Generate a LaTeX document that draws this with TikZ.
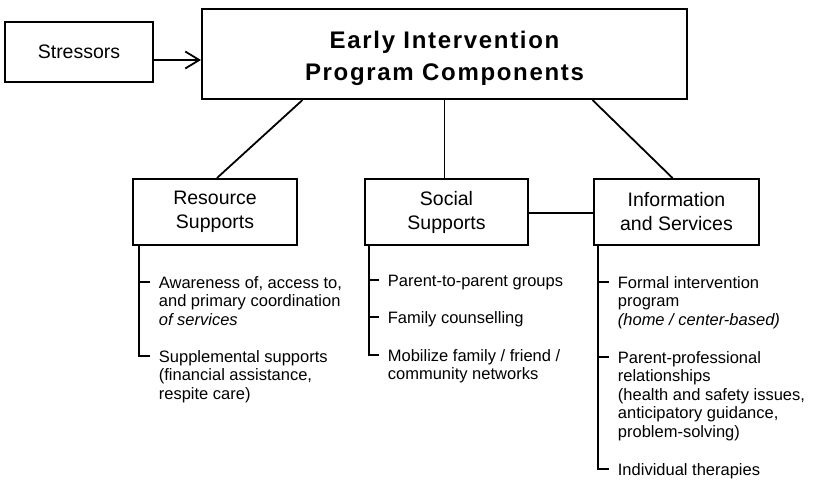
\documentclass[tikz,border=0pt]{standalone}
\usepackage{fontspec}
\setmainfont{Liberation Sans}
\usetikzlibrary{arrows.meta}

\newcommand{\itemfont}{\fontsize{16.5}{18.5}\selectfont}
\newcommand{\boxfont}{\fontsize{19.5}{24}\selectfont}
\newcommand{\titlefont}{\fontsize{24}{32}\selectfont\bfseries\addfontfeatures{LetterSpace=7}}

\begin{document}
\begin{tikzpicture}[x=1pt,y=-1pt,line width=1.8pt,
    box/.style={draw,line width=2pt,align=center,inner sep=0pt,font=\boxfont},
    item/.style={anchor=north west,align=left,inner sep=0pt,font=\itemfont}]
    \useasboundingbox (0,0) rectangle (813,480);

    % Top row
    \node[box,minimum width=148pt,minimum height=60pt] (stress) at (79,52) {Stressors};
    \node[box,minimum width=485pt,minimum height=90pt,font=\titlefont] (main) at (444.5,54)
        {\rule{0pt}{26pt}Early Intervention\\Program Components};
    \draw[-{Straight Barb[length=14pt,width=17pt]}] ([yshift=-8pt]stress.east) -- ([yshift=-8pt]stress.east -| main.west);

    % Components
    \node[box,minimum width=164pt,minimum height=66pt] (res) at (215,212) {Resource\\Supports};
    \node[box,minimum width=163pt,minimum height=66pt] (soc) at (446.5,212) {Social\\Supports};
    \node[box,minimum width=165pt,minimum height=66pt] (info) at (676.5,212) {Information\\and Services};

    \draw ([xshift=-142pt]main.south) -- ([xshift=2pt]res.north);
    \draw (main.south) -- (main.south |- soc.north);
    \draw ([xshift=148pt]main.south) -- ([xshift=-4pt]info.north);
    \draw ([yshift=-1pt]soc.east) -- ([yshift=-1pt]soc.east -| info.west);

    % Resource supports list
    \coordinate (rbar) at ([xshift=7pt]res.south west);
    \node[item] (r1) at (158,274.5) {\strut Awareness of, access to,\\and primary coordination\\\textit{of services}};
    \node[item] (r2) at (158,348.5) {\strut Supplemental supports\\(financial assistance,\\respite care)};

    % Social supports list
    \coordinate (sbar) at ([xshift=5pt]soc.south west);
    \node[item] (s1) at (387,272.5) {\strut Parent-to-parent groups};
    \node[item] (s2) at (387,309.5) {\strut Family counselling};
    \node[item] (s3) at (387,347.5) {\strut Mobilize family / friend /\\community networks};

    % Information and services list
    \coordinate (ibar) at ([xshift=5pt]info.south west);
    \node[item] (i1) at (617,274.5) {\strut Formal intervention\\program\\\textit{(home / center-based)}};
    \node[item] (i2) at (617,349.5) {\strut Parent-professional\\relationships\\(health and safety issues,\\anticipatory guidance,\\problem-solving)};
    \node[item] (i3) at (617,461.5) {\strut Individual therapies};

    % Brackets
    \draw (rbar) |- ([xshift=-8pt,yshift=-7.5pt]r2.north west);
    \draw (sbar) |- ([xshift=-8pt,yshift=-7.5pt]s3.north west);
    \draw (ibar) |- ([xshift=-8pt,yshift=-7.5pt]i3.north west);
    \foreach \n/\b in {r1/rbar,s1/sbar,s2/sbar,i1/ibar,i2/ibar} {
        \draw ([yshift=-7.5pt]\n.north west -| \b) -- ([xshift=-8pt,yshift=-7.5pt]\n.north west);
    }
\end{tikzpicture}
\end{document}
